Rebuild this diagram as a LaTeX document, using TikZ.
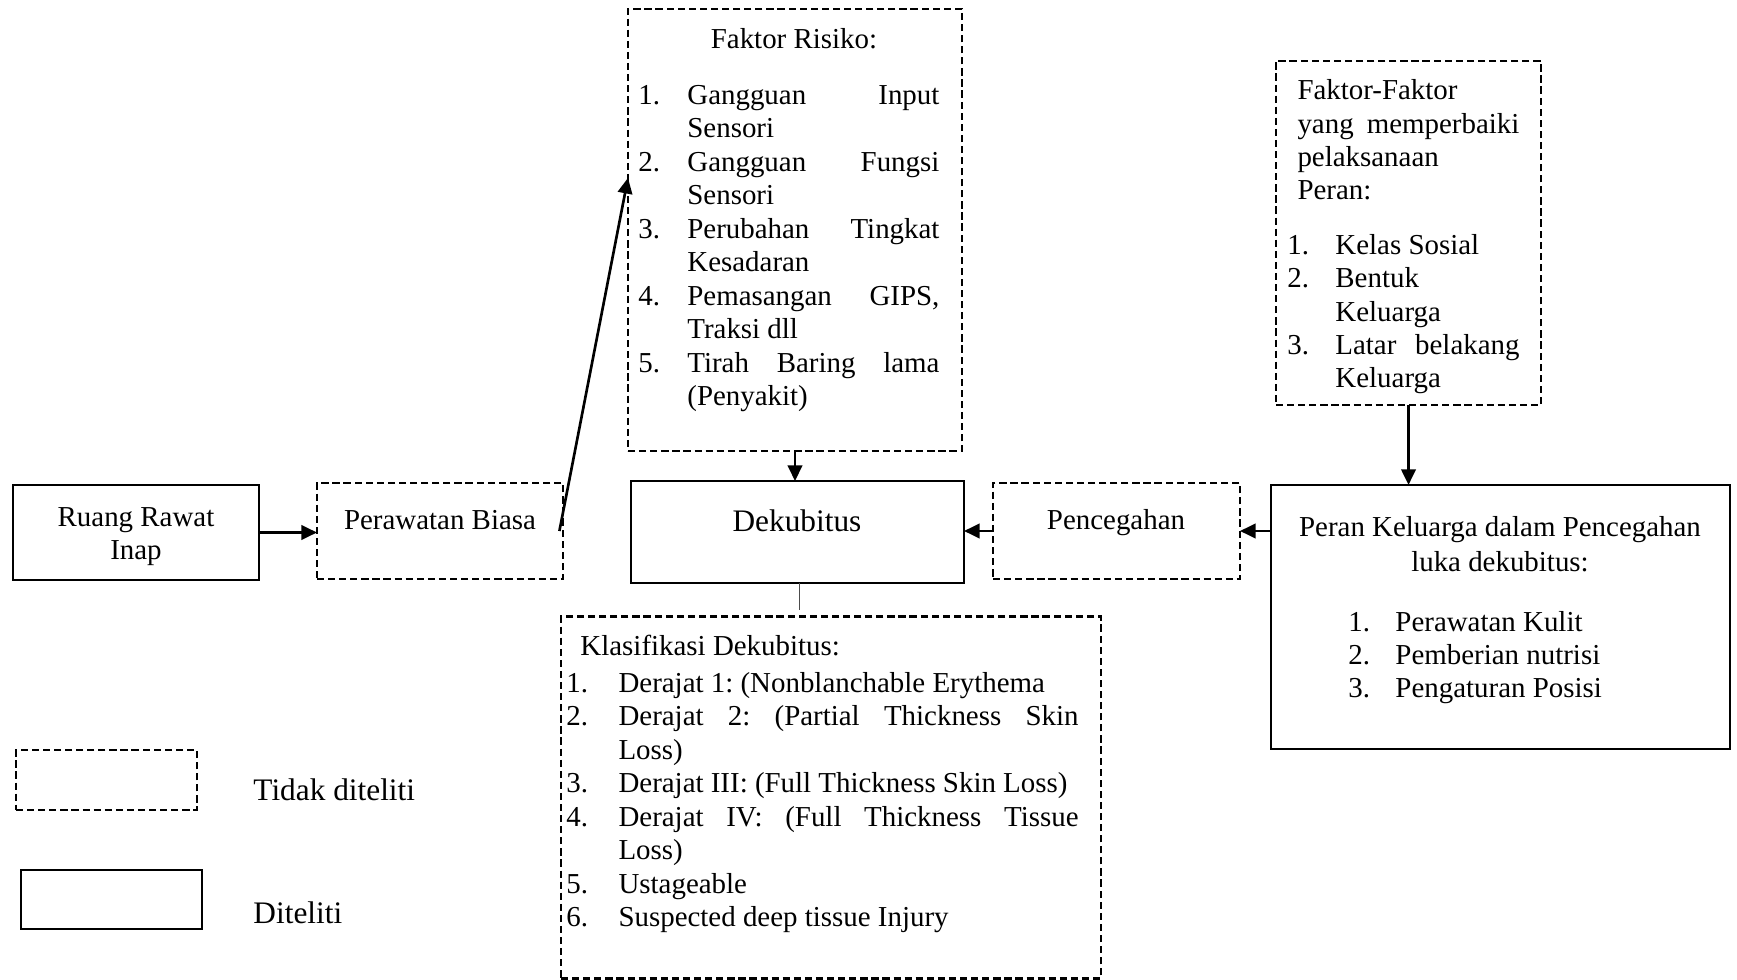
\documentclass[tikz,border=0pt]{standalone}
\usepackage{fontspec}
\setmainfont{Liberation Serif}
\usepackage{tikz}
\usetikzlibrary{arrows.meta,positioning,calc}
\frenchspacing

% kolom nomor dan baris rata kiri-kanan
\newcommand{\nomor}[2]{\makebox[#1][l]{#2}}
\newcommand{\rata}[2]{\makebox[#1][s]{#2}}

\begin{document}
\begin{tikzpicture}[x=0.415pt,y=-0.415pt,
  kotak/.style={draw,line width=1.1pt,inner sep=0pt,outer sep=0pt},
  putus/.style={draw,line width=1.1pt,dash pattern=on 3pt off 1.6pt,inner sep=0pt,outer sep=0pt},
  teks/.style={inner sep=0pt,font=\fontsize{12}{13.9}\selectfont},
  panah/.style={-{Triangle[length=6.5pt,width=6pt]},line width=1.1pt}]
  \useasboundingbox (0,0) rectangle (1737,980);

  % kotak-kotak
  \node[kotak,minimum width=102.1pt,minimum height=39.4pt] (rri) at (136,532.5) {};
  \node[putus,minimum width=102.1pt,minimum height=39.8pt] (pb) at (440,531) {};
  \node[putus,minimum width=138.6pt,minimum height=183.4pt] (fr) at (795,230) {};
  \node[kotak,minimum width=138.2pt,minimum height=42.3pt] (dek) at (797.5,532) {};
  \node[putus,minimum width=102.5pt,minimum height=39.8pt] (cegah) at (1116.5,531) {};
  \node[kotak,minimum width=190.5pt,minimum height=109.6pt] (peran) at (1500.5,617) {};
  \node[putus,minimum width=110pt,minimum height=142.8pt] (ff) at (1408.5,233) {};
  \node[putus,minimum width=224.1pt,minimum height=150.2pt] (klas) at (831,797.5) {};

  % keterangan
  \node[putus,minimum width=75.1pt,minimum height=24.9pt] (ket1) at (106.5,780) {};
  \node[kotak,minimum width=75.1pt,minimum height=24.5pt] (ket2) at (111.5,899.5) {};
  \node[teks,anchor=base west,font=\fontsize{13}{15}\selectfont] (tket1) at (253,800) {Tidak diteliti};
  \node[teks,anchor=base west,font=\fontsize{13}{15}\selectfont] (tket2) at (253,923) {Diteliti};

  % isi kotak (base = baris terakhir)
  \node[teks,anchor=base,align=center] (trri) at (136,560) {Ruang Rawat\\Inap};
  \node[teks,anchor=base] (tpb) at (440,530) {Perawatan Biasa};
  \node[teks,anchor=base,font=\fontsize{13}{15}\selectfont] (tdek) at (797,532) {Dekubitus};
  \node[teks,anchor=base] (tcegah) at (1116,530) {Pencegahan};

  \node[teks,anchor=base] (tfr) at (794,49) {Faktor Risiko:};
  \node[teks,anchor=base west,align=left] (isifr) at (638,405.5) {%
    \nomor{20.3pt}{1.}\rata{104.6pt}{Gangguan Input}\\
    \nomor{20.3pt}{}Sensori\\
    \nomor{20.3pt}{2.}\rata{104.6pt}{Gangguan Fungsi}\\
    \nomor{20.3pt}{}Sensori\\
    \nomor{20.3pt}{3.}\rata{104.6pt}{Perubahan Tingkat}\\
    \nomor{20.3pt}{}Kesadaran\\
    \nomor{20.3pt}{4.}\rata{104.6pt}{Pemasangan GIPS,}\\
    \nomor{20.3pt}{}Traksi dll\\
    \nomor{20.3pt}{5.}\rata{104.6pt}{Tirah Baring lama}\\
    \nomor{20.3pt}{}(Penyakit)};

  \node[teks,anchor=base west,align=left] (tff) at (1297,200) {%
    Faktor-Faktor\\
    \rata{92.1pt}{yang memperbaiki}\\
    pelaksanaan\\
    Peran:};
  \node[teks,anchor=base west,align=left] (isiff) at (1287,388) {%
    \nomor{19.9pt}{1.}Kelas Sosial\\
    \nomor{19.9pt}{2.}Bentuk\\
    \nomor{19.9pt}{}Keluarga\\
    \nomor{19.9pt}{3.}\rata{76.4pt}{Latar belakang}\\
    \nomor{19.9pt}{}Keluarga};

  \node[teks,anchor=base,align=center] (tperan) at (1500,572) {%
    Peran Keluarga dalam Pencegahan\\[1pt]
    luka dekubitus:};
  \node[teks,anchor=base west,align=left] (isiperan) at (1348,698) {%
    \nomor{19.5pt}{1.}Perawatan Kulit\\
    \nomor{19.5pt}{2.}Pemberian nutrisi\\
    \nomor{19.5pt}{3.}Pengaturan Posisi};

  \node[teks,anchor=base west] (tklas) at (580,656) {Klasifikasi Dekubitus:};
  \node[teks,anchor=base west,align=left] (isiklas) at (566,926.5) {%
    \nomor{21.6pt}{1.}Derajat 1: (Nonblanchable Erythema\\
    \nomor{21.6pt}{2.}\rata{190.9pt}{Derajat 2: (Partial Thickness Skin}\\
    \nomor{21.6pt}{}Loss)\\
    \nomor{21.6pt}{3.}Derajat III: (Full Thickness Skin Loss)\\
    \nomor{21.6pt}{4.}\rata{190.9pt}{Derajat IV: (Full Thickness Tissue}\\
    \nomor{21.6pt}{}Loss)\\
    \nomor{21.6pt}{5.}Ustageable\\
    \nomor{21.6pt}{6.}Suspected deep tissue Injury};

  % panah
  \draw[panah] (rri.east) -- (rri.east -| pb.west);
  \draw[panah] ([xshift=-1.5pt]pb.east) -- ($(fr.north west)!0.382!(fr.south west)$);
  \draw[panah] (fr.south) -- (fr.south |- dek.north);
  \draw[panah] (cegah.west) -- (cegah.west -| dek.east);
  \draw[panah] (peran.west |- cegah.east) -- (cegah.east);
  \draw[panah] (ff.south) -- (ff.south |- peran.north);
  \coordinate (ujung) at (799,610);
  \draw[line width=0.4pt,black!70] (ujung |- dek.south) -- (ujung);
\end{tikzpicture}
\end{document}
